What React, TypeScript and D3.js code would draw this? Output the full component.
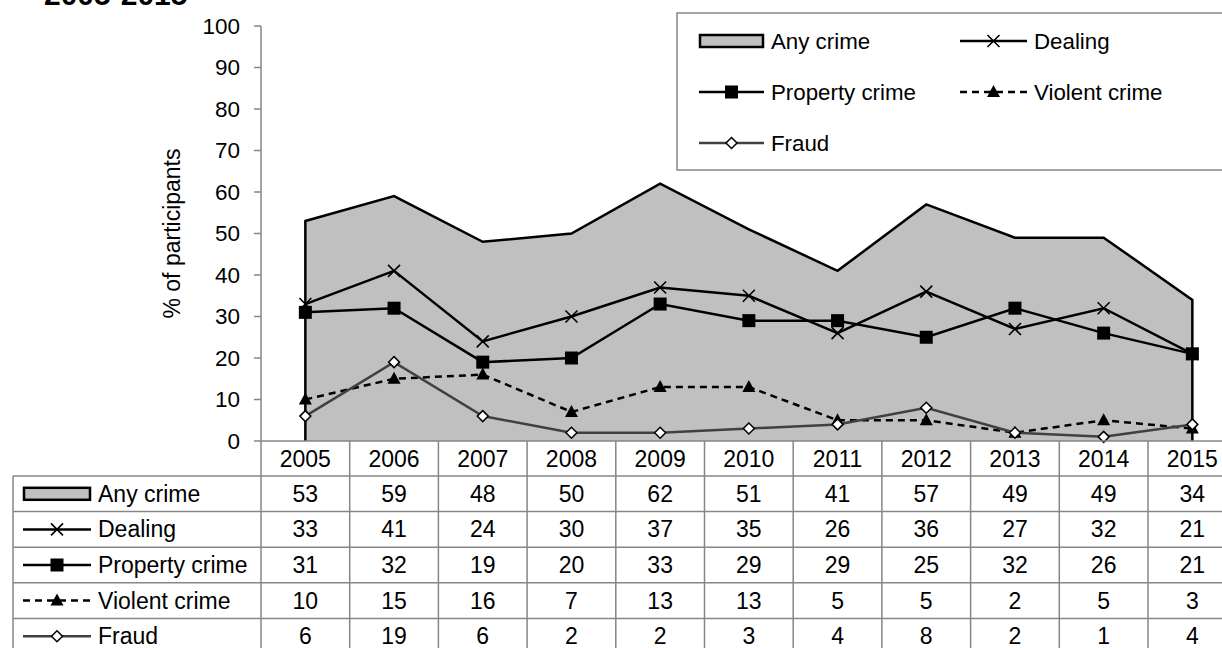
import React from 'react';
import * as d3 from 'd3';

const years = ['2005', '2006', '2007', '2008', '2009', '2010', '2011', '2012', '2013', '2014', '2015'];
const anyCrime = [53, 59, 48, 50, 62, 51, 41, 57, 49, 49, 34];
const dealing = [33, 41, 24, 30, 37, 35, 26, 36, 27, 32, 21];
const propertyCrime = [31, 32, 19, 20, 33, 29, 29, 25, 32, 26, 21];
const violentCrime = [10, 15, 16, 7, 13, 13, 5, 5, 2, 5, 3];
const fraud = [6, 19, 6, 2, 2, 3, 4, 8, 2, 1, 4];
const yTicks = [0, 10, 20, 30, 40, 50, 60, 70, 80, 90, 100];
const seriesNames = ['Any crime', 'Dealing', 'Property crime', 'Violent crime', 'Fraud'];

const FONT = '"Liberation Sans", Arial, Helvetica, sans-serif';
const AXIS = '#868686';

type Kind = 'area' | 'x' | 'square' | 'triangle' | 'diamond';

function Marker({ kind, cx, cy }: { kind: Kind; cx: number; cy: number }) {
  if (kind === 'x') {
    const s = 6;
    return (
      <path d={`M${cx - s},${cy - s}L${cx + s},${cy + s}M${cx - s},${cy + s}L${cx + s},${cy - s}`} stroke="#000" strokeWidth={1.6} fill="none" />
    );
  }
  if (kind === 'square') {
    const s = 6.5;
    return <rect x={cx - s} y={cy - s} width={2 * s} height={2 * s} fill="#000" />;
  }
  if (kind === 'triangle') {
    return <path d={`M${cx},${cy - 7}L${cx + 6.5},${cy + 5}L${cx - 6.5},${cy + 5}Z`} fill="#000" />;
  }
  if (kind === 'diamond') {
    const s = 5.5;
    return <path d={`M${cx},${cy - s}L${cx + s},${cy}L${cx},${cy + s}L${cx - s},${cy}Z`} fill="#fff" stroke="#000" strokeWidth={1.5} />;
  }
  return null;
}

const seriesStyle: { kind: Kind; color: string; dash?: string }[] = [
  { kind: 'area', color: '#000' },
  { kind: 'x', color: '#000' },
  { kind: 'square', color: '#000' },
  { kind: 'triangle', color: '#000', dash: '7,5' },
  { kind: 'diamond', color: '#404040' },
];

function LegendKey({ i, x0, x1, cy }: { i: number; x0: number; x1: number; cy: number }) {
  const st = seriesStyle[i];
  if (st.kind === 'area') {
    return <rect x={x0 + 1} y={cy - 6} width={x1 - x0 - 2} height={12} fill="#c0c0c0" stroke="#000" strokeWidth={2.5} />;
  }
  const mid = (x0 + x1) / 2;
  return (
    <g>
      <line x1={x0} x2={x1} y1={cy} y2={cy} stroke={st.color} strokeWidth={2.5} strokeDasharray={st.dash} />
      <Marker kind={st.kind} cx={mid} cy={cy} />
    </g>
  );
}

export default function App() {
  const W = 1222;
  const H = 648;
  const left = 261;
  const bandW = 88.7;
  const yTop = 26;
  const yBot = 441;

  const x = d3.scaleBand<string>().domain(years).range([left, left + bandW * years.length]).padding(0);
  const cx = (yr: string) => (x(yr) as number) + x.bandwidth() / 2;
  const y = d3.scaleLinear().domain([0, 100]).range([yBot, yTop]);

  const lineGen = d3
    .line<number>()
    .x((_, i) => cx(years[i]))
    .y((d) => y(d));

  const areaGen = d3
    .area<number>()
    .x((_, i) => cx(years[i]))
    .y0(y(0))
    .y1((d) => y(d));

  const outline =
    `M${cx(years[0])},${y(0)}` +
    anyCrime.map((d, i) => `L${cx(years[i])},${y(d)}`).join('') +
    `L${cx(years[years.length - 1])},${y(0)}`;

  const lineSeries = [dealing, propertyCrime, violentCrime, fraud];
  const allSeries = [anyCrime, dealing, propertyCrime, violentCrime, fraud];

  // table geometry
  const tableLeft = 13;
  const tableRight = left + bandW * years.length;
  const headerBottom = 476;
  const rowH = 35.6;
  const rowTops = allSeries.map((_, i) => headerBottom + i * rowH);
  const tableBottom = headerBottom + rowH * allSeries.length;
  const TF = 23;

  return (
    <svg width={W} height={H} style={{ position: 'absolute', left: 0, top: 0, overflow: 'hidden', background: '#fff' }} fontFamily={FONT}>
      <rect x={0} y={0} width={W} height={H} fill="#fff" />
      {/* title (cut at top) */}
      <text x={44} y={5} fontSize={30} fontWeight="bold" fill="#000">
        2005-2015
      </text>

      {/* area */}
      <path d={areaGen(anyCrime) || ''} fill="#c0c0c0" />
      <path d={outline} fill="none" stroke="#000" strokeWidth={2.5} strokeLinejoin="miter" />

      {/* y axis */}
      <line x1={left} x2={left} y1={yTop} y2={yBot} stroke={AXIS} strokeWidth={1.5} />
      {yTicks.map((t) => (
        <g key={t}>
          <line x1={left - 7} x2={left} y1={y(t)} y2={y(t)} stroke={AXIS} strokeWidth={1.5} />
          <text x={240} y={y(t)} dy="0.35em" textAnchor="end" fontSize={22.5} fill="#000">
            {t}
          </text>
        </g>
      ))}
      <text transform={`translate(180,${(yTop + yBot) / 2}) rotate(-90)`} textAnchor="middle" fontSize={23} fill="#000">
        % of participants
      </text>

      {/* lines */}
      {lineSeries.map((s, k) => {
        const st = seriesStyle[k + 1];
        return (
          <g key={k}>
            <path d={lineGen(s) || ''} fill="none" stroke={st.color} strokeWidth={2.5} strokeDasharray={st.dash} />
            {s.map((d, i) => (
              <Marker key={i} kind={st.kind} cx={cx(years[i])} cy={y(d)} />
            ))}
          </g>
        );
      })}

      {/* category axis / table */}
      <line x1={left} x2={tableRight} y1={yBot} y2={yBot} stroke={AXIS} strokeWidth={1.5} />
      {years.map((yr) => (
        <g key={yr}>
          <line x1={(x(yr) as number) + bandW} x2={(x(yr) as number) + bandW} y1={yBot} y2={tableBottom} stroke={AXIS} strokeWidth={1.5} />
          <text x={cx(yr)} y={(yBot + headerBottom) / 2} dy="0.35em" textAnchor="middle" fontSize={TF} fill="#000">
            {yr}
          </text>
        </g>
      ))}
      <line x1={left} x2={left} y1={yBot} y2={tableBottom} stroke={AXIS} strokeWidth={1.5} />
      <line x1={tableLeft} x2={tableLeft} y1={headerBottom} y2={tableBottom} stroke={AXIS} strokeWidth={1.5} />
      {rowTops.map((t, i) => (
        <line key={i} x1={tableLeft} x2={tableRight} y1={t} y2={t} stroke={AXIS} strokeWidth={1.5} />
      ))}
      <line x1={tableLeft} x2={tableRight} y1={tableBottom} y2={tableBottom} stroke={AXIS} strokeWidth={1.5} />
      {allSeries.map((s, r) => {
        const cy = rowTops[r] + rowH / 2;
        return (
          <g key={r}>
            <LegendKey i={r} x0={23} x1={91} cy={cy} />
            <text x={98} y={cy} dy="0.35em" fontSize={TF} fill="#000">
              {seriesNames[r]}
            </text>
            {s.map((v, i) => (
              <text key={i} x={cx(years[i])} y={cy} dy="0.35em" textAnchor="middle" fontSize={TF} fill="#000">
                {v}
              </text>
            ))}
          </g>
        );
      })}

      {/* legend */}
      <rect x={677} y={13} width={600} height={157} fill="#fff" stroke={AXIS} strokeWidth={1.5} />
      {[
        { i: 0, x0: 699, x1: 764, cy: 41 },
        { i: 1, x0: 960, x1: 1027, cy: 41 },
        { i: 2, x0: 699, x1: 764, cy: 92 },
        { i: 3, x0: 960, x1: 1027, cy: 92 },
        { i: 4, x0: 699, x1: 764, cy: 143 },
      ].map((e) => (
        <g key={e.i}>
          <LegendKey i={e.i} x0={e.x0} x1={e.x1} cy={e.cy} />
          <text x={e.x1 + 7} y={e.cy} dy="0.35em" fontSize={22.3} fill="#000">
            {seriesNames[e.i]}
          </text>
        </g>
      ))}
    </svg>
  );
}
